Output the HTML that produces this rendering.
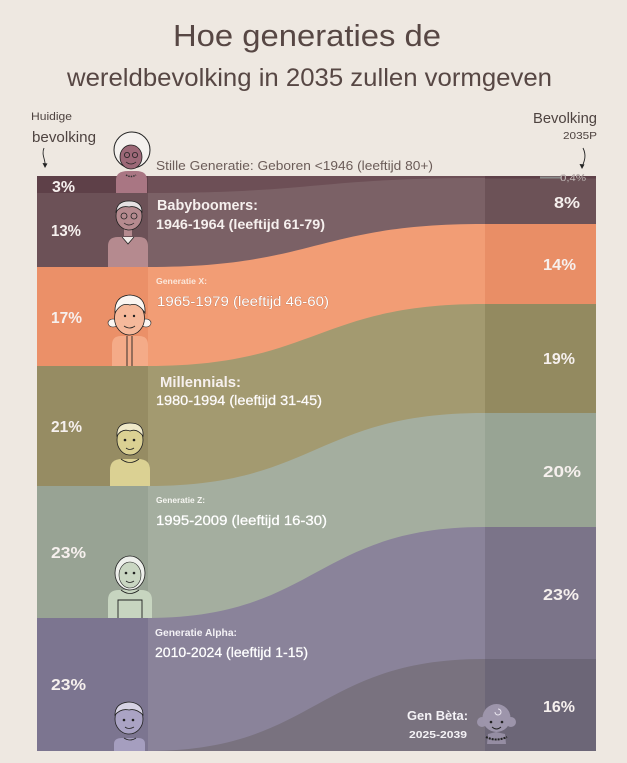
<!DOCTYPE html>
<html>
<head>
<meta charset="utf-8">
<style>
  html,body{margin:0;padding:0;background:#eee8e1;}
  svg{display:block;}
  text{font-family:"Liberation Sans", sans-serif;}
</style>
</head>
<body>
<svg width="627" height="763" viewBox="0 0 627 763" xmlns="http://www.w3.org/2000/svg">
  <rect x="0" y="0" width="627" height="763" fill="#eee8e1"/>

  <!-- Title -->
  <text x="173" y="46" font-size="30.5" fill="#574744" textLength="268" lengthAdjust="spacingAndGlyphs">Hoe generaties de</text>
  <text x="67" y="86" font-size="24.7" fill="#574744" textLength="485" lengthAdjust="spacingAndGlyphs">wereldbevolking in 2035 zullen vormgeven</text>

  <!-- Headers -->
  <text x="31" y="120" font-size="11" fill="#4e4340" textLength="41" lengthAdjust="spacingAndGlyphs">Huidige</text>
  <text x="32" y="142" font-size="14.5" fill="#4e4340" textLength="64" lengthAdjust="spacingAndGlyphs">bevolking</text>
  <text x="533" y="123" font-size="14.5" fill="#4e4340" textLength="64" lengthAdjust="spacingAndGlyphs">Bevolking</text>
  <text x="563" y="139" font-size="10.5" fill="#4e4340" textLength="34" lengthAdjust="spacingAndGlyphs">2035P</text>
  <path d="M44,148 C41,155 46,160 45,166" fill="none" stroke="#222" stroke-width="0.9"/>
  <path d="M42.5,163 L45,168 L47.5,163.5 Z" fill="#222"/>
  <path d="M583,148 C587,156 584,162 582,167" fill="none" stroke="#222" stroke-width="0.9"/>
  <path d="M579.5,164 L582,169 L584.5,164.5 Z" fill="#222"/>

  <!-- Flow bands (middle colors), drawn top to bottom, each to chart bottom -->
  <path d="M37,176 L596,176 L596,751 L37,751 Z" fill="#6d4f56"/>
  <path d="M37,193 L148,193 C316,193 316,178 484,178 L596,178 L596,751 L37,751 Z" fill="#7b6166"/>
  <path d="M37,267 L148,267 C316,267 316,224 484,224 L596,224 L596,751 L37,751 Z" fill="#f29d75"/>
  <path d="M37,366 L148,366 C316,366 316,304 484,304 L596,304 L596,751 L37,751 Z" fill="#a39a70"/>
  <path d="M37,486 L148,486 C316,486 316,413 484,413 L596,413 L596,751 L37,751 Z" fill="#a4ae9f"/>
  <path d="M37,618 L148,618 C316,618 316,527 484,527 L596,527 L596,751 L37,751 Z" fill="#8a839a"/>
  <path d="M37,751 L148,751 C316,751 316,659 484,659 L596,659 L596,751 L37,751 Z" fill="#79727f"/>

  <!-- Left column -->
  <rect x="37" y="176" width="111" height="17" fill="#5e4048"/>
  <rect x="37" y="193" width="111" height="74" fill="#6c5157"/>
  <rect x="37" y="267" width="111" height="99" fill="#eb9068"/>
  <rect x="37" y="366" width="111" height="120" fill="#968c63"/>
  <rect x="37" y="486" width="111" height="132" fill="#98a394"/>
  <rect x="37" y="618" width="111" height="133" fill="#7c7590"/>

  <!-- Right column -->
  <rect x="485" y="176" width="111" height="2.5" fill="#5e4048"/>
  <rect x="485" y="178.5" width="111" height="45.5" fill="#6c5257"/>
  <rect x="485" y="224" width="111" height="80" fill="#e98e66"/>
  <rect x="485" y="304" width="111" height="109" fill="#938a60"/>
  <rect x="485" y="413" width="111" height="114" fill="#98a494"/>
  <rect x="485" y="527" width="111" height="132" fill="#7b7489"/>
  <rect x="485" y="659" width="111" height="92" fill="#6c6677"/>

  <!-- 0.4% marker -->
  <line x1="540" y1="177.5" x2="562" y2="177.5" stroke="#8a8a8a" stroke-width="2"/>
  <text x="560" y="181" font-size="9.5" fill="#efe6e6" stroke="#7a6a6a" stroke-width="0.3" textLength="26" lengthAdjust="spacingAndGlyphs">0,4%</text>

  <!-- Left percentages -->
  <g font-size="15.5" font-weight="bold" fill="#f6f0ee">
    <text x="52" y="192" textLength="23" lengthAdjust="spacingAndGlyphs">3%</text>
    <text x="51" y="236" textLength="30" lengthAdjust="spacingAndGlyphs">13%</text>
    <text x="51" y="323" textLength="31" lengthAdjust="spacingAndGlyphs">17%</text>
    <text x="51" y="432" textLength="31" lengthAdjust="spacingAndGlyphs">21%</text>
    <text x="51" y="558" textLength="35" lengthAdjust="spacingAndGlyphs">23%</text>
    <text x="51" y="690" textLength="35" lengthAdjust="spacingAndGlyphs">23%</text>
  </g>
  <!-- Right percentages -->
  <g font-size="16" font-weight="bold" fill="#f6f0ee">
    <text x="554" y="208" textLength="26" lengthAdjust="spacingAndGlyphs">8%</text>
    <text x="543" y="270" textLength="33" lengthAdjust="spacingAndGlyphs">14%</text>
    <text x="543" y="364" textLength="32" lengthAdjust="spacingAndGlyphs">19%</text>
    <text x="543" y="477" textLength="38" lengthAdjust="spacingAndGlyphs">20%</text>
    <text x="543" y="600" textLength="36" lengthAdjust="spacingAndGlyphs">23%</text>
    <text x="543" y="712" textLength="32" lengthAdjust="spacingAndGlyphs">16%</text>
  </g>

  <!-- Generation labels -->
  <text x="156" y="170" font-size="13" fill="#6b5c58" textLength="277" lengthAdjust="spacingAndGlyphs">Stille Generatie: Geboren &lt;1946 (leeftijd 80+)</text>

  <text x="157" y="210" font-size="14.5" font-weight="bold" fill="#f6f0ee" textLength="101" lengthAdjust="spacingAndGlyphs">Babyboomers:</text>
  <text x="156" y="229" font-size="13.5" font-weight="bold" fill="#f6f0ee" textLength="169" lengthAdjust="spacingAndGlyphs">1946-1964 (leeftijd 61-79)</text>

  <text x="156" y="284" font-size="8.5" font-weight="bold" fill="#fbe8dc" textLength="51" lengthAdjust="spacingAndGlyphs">Generatie X:</text>
  <text x="157" y="306" font-size="14" fill="#ffffff" stroke="#b66c4c" stroke-width="0.5" paint-order="stroke" textLength="172" lengthAdjust="spacingAndGlyphs">1965-1979 (leeftijd 46-60)</text>

  <text x="160" y="387" font-size="14.5" font-weight="bold" fill="#f6f0ee" textLength="81" lengthAdjust="spacingAndGlyphs">Millennials:</text>
  <text x="156" y="405" font-size="13.5" fill="#ffffff" stroke="#f6f0ee" stroke-width="0.3" textLength="166" lengthAdjust="spacingAndGlyphs">1980-1994 (leeftijd 31-45)</text>

  <text x="156" y="503" font-size="8.5" font-weight="bold" fill="#f6f6f2" textLength="49" lengthAdjust="spacingAndGlyphs">Generatie Z:</text>
  <text x="156" y="525" font-size="14" fill="#ffffff" stroke="#ffffff" stroke-width="0.25" textLength="171" lengthAdjust="spacingAndGlyphs">1995-2009 (leeftijd 16-30)</text>

  <text x="155" y="636" font-size="10.5" font-weight="bold" fill="#f4f2f6" textLength="82" lengthAdjust="spacingAndGlyphs">Generatie Alpha:</text>
  <text x="155" y="657" font-size="14" fill="#ffffff" stroke="#ffffff" stroke-width="0.25" textLength="153" lengthAdjust="spacingAndGlyphs">2010-2024 (leeftijd 1-15)</text>

  <text x="407" y="720" font-size="13" font-weight="bold" fill="#f4f2f6" textLength="61" lengthAdjust="spacingAndGlyphs">Gen Bèta:</text>
  <text x="409" y="738" font-size="10.5" font-weight="bold" fill="#f4f2f6" textLength="58" lengthAdjust="spacingAndGlyphs">2025-2039</text>

  <!-- Avatars -->
  <!-- Silent generation grandma -->
  <g>
    <path d="M116,193 L116,180 Q116,171 128,171 L136,171 Q147,171 147,180 L147,193 Z" fill="#a97683"/>
    <circle cx="132" cy="150" r="18" fill="#f4f1ee" stroke="#222" stroke-width="1"/>
    <ellipse cx="131" cy="157" rx="11" ry="12" fill="#9c6877" stroke="#222" stroke-width="0.8"/>
    <circle cx="127" cy="155" r="2.6" fill="none" stroke="#222" stroke-width="0.8"/>
    <circle cx="135" cy="155" r="2.6" fill="none" stroke="#222" stroke-width="0.8"/>
    <path d="M126,162 Q131,166 136,162" fill="none" stroke="#222" stroke-width="0.8"/>
    <path d="M126,175 Q131,178 136,175" fill="none" stroke="#333" stroke-width="1.5" stroke-dasharray="1.5,1"/>
  </g>
  <!-- Boomer -->
  <g>
    <path d="M108,267 L108,246 Q108,237 118,237 L139,237 Q148,237 148,246 L148,267 Z" fill="#b58a8f"/>
    <path d="M122,237 L128,244 L134,237" fill="#f2ece9" stroke="#222" stroke-width="0.8"/>
    <rect x="124" y="226" width="8" height="10" fill="#b58a8f"/>
    <ellipse cx="129" cy="216" rx="13" ry="14" fill="#b58a8f" stroke="#222" stroke-width="0.8"/>
    <path d="M116,212 Q117,201 129,201 Q142,201 142,212 Q136,205 129,207 Q121,205 116,212 Z" fill="#e6e1e3" stroke="#222" stroke-width="0.8"/>
    <circle cx="124" cy="216" r="3" fill="none" stroke="#222" stroke-width="0.8"/>
    <circle cx="134" cy="216" r="3" fill="none" stroke="#222" stroke-width="0.8"/>
    <path d="M124,223 Q129,227 134,223" fill="none" stroke="#222" stroke-width="0.8"/>
  </g>
  <!-- Gen X -->
  <g>
    <path d="M112,366 L112,345 Q112,336 121,336 L139,336 Q148,336 148,345 L148,366 Z" fill="#f4ab88"/>
    <line x1="127" y1="336" x2="127" y2="366" stroke="#222" stroke-width="0.9"/>
    <line x1="132" y1="336" x2="132" y2="366" stroke="#222" stroke-width="0.9"/>
    <ellipse cx="113" cy="323" rx="5" ry="4" fill="#fbf6f2" stroke="#222" stroke-width="0.6"/>
    <ellipse cx="146" cy="323" rx="5" ry="4" fill="#fbf6f2" stroke="#222" stroke-width="0.6"/>
    <ellipse cx="129.5" cy="318" rx="15" ry="17" fill="#f5b99b" stroke="#222" stroke-width="0.8"/>
    <path d="M115,313 Q114,296 130,295 Q146,296 145,313 Q138,302 130,305 Q121,302 115,313 Z" fill="#fbf6f2" stroke="#222" stroke-width="0.8"/>
    <circle cx="125" cy="316" r="1.2" fill="#222"/>
    <circle cx="134" cy="316" r="1.2" fill="#222"/>
    <path d="M124,326 Q129.5,330 135,326" fill="none" stroke="#222" stroke-width="0.8"/>
  </g>
  <!-- Millennial -->
  <g>
    <path d="M110,486 L110,470 Q110,459 122,459 L138,459 Q150,459 150,470 L150,486 Z" fill="#dbd193"/>
    <path d="M121,459 Q130,466 139,459" fill="none" stroke="#222" stroke-width="0.8"/>
    <ellipse cx="130" cy="440" rx="13" ry="15" fill="#dbd193" stroke="#222" stroke-width="0.8"/>
    <path d="M117,436 Q116,423 130,423 Q144,423 143,436 Q137,428 130,431 Q122,428 117,436 Z" fill="#efe9c9" stroke="#222" stroke-width="0.8"/>
    <circle cx="125" cy="440" r="1.3" fill="#222"/>
    <circle cx="134" cy="440" r="1.3" fill="#222"/>
    <path d="M126,448 Q130,451 134,448" fill="none" stroke="#222" stroke-width="0.8"/>
  </g>
  <!-- Gen Z -->
  <g>
    <path d="M108,618 L108,600 Q108,590 119,590 L141,590 Q152,590 152,600 L152,618 Z" fill="#c7d5c0"/>
    <path d="M118,618 L118,600 L142,600 L142,618" fill="none" stroke="#222" stroke-width="0.9"/>
    <path d="M121,590 Q130,597 139,590" fill="none" stroke="#222" stroke-width="0.8"/>
    <ellipse cx="130" cy="573" rx="15" ry="17" fill="#eef0ec" stroke="#222" stroke-width="0.8"/>
    <ellipse cx="130" cy="575" rx="11" ry="13" fill="#c9d6c2" stroke="#222" stroke-width="0.6"/>
    <circle cx="126" cy="573" r="1.3" fill="#222"/>
    <circle cx="134" cy="573" r="1.3" fill="#222"/>
    <path d="M126,581 Q130,584 134,581" fill="none" stroke="#222" stroke-width="0.8"/>
  </g>
  <!-- Alpha -->
  <g>
    <path d="M114,751 L114,744 Q114,738 122,738 L138,738 Q145,738 145,744 L145,751 Z" fill="#a59ebf"/>
    <path d="M124,738 Q130,742 136,738" fill="none" stroke="#222" stroke-width="0.8"/>
    <ellipse cx="129" cy="719" rx="14" ry="15" fill="#aaa3c4" stroke="#222" stroke-width="0.8"/>
    <path d="M115,715 Q115,703 129,702 Q143,703 143,715 Q136,708 129,710 Q121,708 115,715 Z" fill="#d6d2e3" stroke="#222" stroke-width="0.8"/>
    <circle cx="124" cy="720" r="1.3" fill="#222"/>
    <circle cx="133" cy="720" r="1.3" fill="#222"/>
    <path d="M125,727 Q129,730 134,727" fill="none" stroke="#222" stroke-width="0.8"/>
  </g>
  <!-- Beta baby -->
  <g>
    <circle cx="482" cy="722" r="5" fill="#9c94aa"/>
    <circle cx="511" cy="722" r="5" fill="#9c94aa"/>
    <circle cx="496.5" cy="718" r="14" fill="#9d95ab"/>
    <path d="M498,709 A3,3 0 1 1 495,712" fill="none" stroke="#e8e4ee" stroke-width="1"/>
    <circle cx="491" cy="722" r="1.3" fill="#222"/>
    <circle cx="502" cy="722" r="1.3" fill="#222"/>
    <path d="M492,727 Q496.5,731 501,727" fill="none" stroke="#222" stroke-width="0.9"/>
    <path d="M488,734 L496,732 L505,734 L506,744 L487,744 Z" fill="#958da3"/>
    <path d="M486,737 Q496,742 507,737" fill="none" stroke="#222" stroke-width="2" stroke-dasharray="2,1"/>
  </g>
</svg>
</body>
</html>
